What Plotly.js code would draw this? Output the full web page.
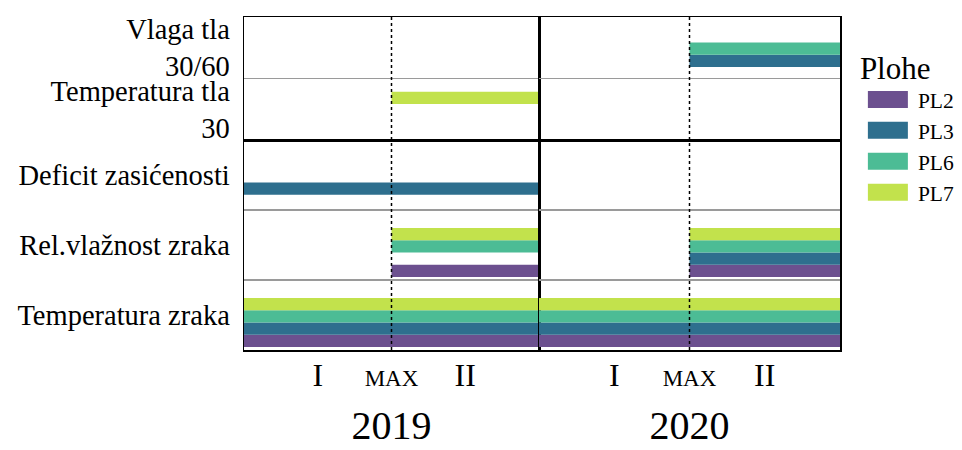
<!DOCTYPE html>
<html><head><meta charset="utf-8">
<script src="https://cdn.plot.ly/plotly-3.0.1.min.js"></script>
<style>html,body{margin:0;padding:0;background:#fff}#chart{width:962px;height:450px}</style>
</head><body><div id="chart"></div>
<script>
// ---------- data ----------
const years = ['2019', '2020'];
const phaseLabels = ['I', 'MAX', 'II'];
const phaseEdges = [0, 1, 2];               // start of I, MAX, end of II
const plots = ['PL2', 'PL3', 'PL6', 'PL7'];
const plotColors = ['#6C508F', '#2E6F8E', '#4CBC95', '#C2E24C'];
const airVariables = ['Temperatura zraka', 'Rel.vlažnost zraka', 'Deficit zasićenosti'];
const soilVariables = ['Temperatura tla 30', 'Vlaga tla 30/60'];

// measurement periods (phase units: 0 = start I, 1 = MAX, 2 = end II)
const segYear = ['2019','2019','2019','2019','2019','2019','2019','2019','2019',
                 '2020','2020','2020','2020','2020','2020','2020','2020','2020','2020'];
const segVariable = ['Temperatura zraka','Temperatura zraka','Temperatura zraka','Temperatura zraka',
                     'Rel.vlažnost zraka','Rel.vlažnost zraka','Rel.vlažnost zraka',
                     'Deficit zasićenosti','Temperatura tla 30',
                     'Temperatura zraka','Temperatura zraka','Temperatura zraka','Temperatura zraka',
                     'Rel.vlažnost zraka','Rel.vlažnost zraka','Rel.vlažnost zraka','Rel.vlažnost zraka',
                     'Vlaga tla 30/60','Vlaga tla 30/60'];
const segPlot = ['PL2','PL3','PL6','PL7',
                 'PL2','PL6','PL7',
                 'PL3','PL7',
                 'PL2','PL3','PL6','PL7',
                 'PL2','PL3','PL6','PL7',
                 'PL3','PL6'];
const segFrom = [0,0,0,0, 1,1,1, 0,1, 0,0,0,0, 1,1,1,1, 1,1];
const segTo   = [2,2,2,2, 2,2,2, 2,2, 2,2,2,2, 2,2,2,2, 2,2];

// ---------- build ----------
const FONT = 'Liberation Serif, Times New Roman, serif';
const facets = [
  {vars: airVariables, yaxis: 'y', slot: 12.3 / 70, shift: -7.5 / 70},
  {vars: soilVariables, yaxis: 'y2', slot: 12.3 / 61.5, shift: -7 / 61.5}
];
const xAxes = ['x', 'x2'];

const traces = [];
plots.forEach((p, k) => {
  let first = true;
  years.forEach((yr, c) => {
    facets.forEach(f => {
      const idx = segYear.map((v, i) => i).filter(i =>
        segYear[i] === yr && segPlot[i] === p && f.vars.includes(segVariable[i]));
      if (!idx.length) return;
      traces.push({
        type: 'bar', orientation: 'h',
        y: idx.map(i => segVariable[i]),
        x: idx.map(i => segTo[i] - segFrom[i]),
        base: idx.map(i => segFrom[i]),
        xaxis: xAxes[c], yaxis: f.yaxis,
        width: f.slot,
        offset: (k - 2) * f.slot + f.shift,
        marker: {color: plotColors[k], line: {width: 0}},
        name: p, legendgroup: p, showlegend: first,
        hoverinfo: 'skip'
      });
      first = false;
    });
  });
});

const tickVals = [(phaseEdges[0] + phaseEdges[1]) / 2, phaseEdges[1], (phaseEdges[1] + phaseEdges[2]) / 2];
const tickText = phaseLabels.map(t => t === 'MAX' ? '<span style="font-size:23px">' + t + '</span>' : t);

function xAxis(dom, title) {
  return {
    domain: dom, anchor: 'y', range: [phaseEdges[0], phaseEdges[2]],
    showgrid: false, zeroline: false, fixedrange: true,
    showline: true, mirror: 'all', linecolor: 'black', linewidth: 1.5,
    tickmode: 'array', tickvals: tickVals, ticktext: tickText,
    ticks: '', ticklabelstandoff: -4, tickfont: {family: FONT, size: 32, color: 'black'},
    title: {text: title, font: {family: FONT, size: 40, color: 'black'}, standoff: 19}
  };
}
function yAxis(dom, vars) {
  return {
    domain: dom, anchor: 'x', type: 'category',
    categoryorder: 'array', categoryarray: vars, range: [-0.5, vars.length - 0.5],
    tickson: 'boundaries', ticks: '', ticklabelstandoff: 7,
    showgrid: true, gridcolor: '#9a9a9a', gridwidth: 1.5, zeroline: false,
    showline: true, mirror: 'all', linecolor: 'black', linewidth: 1.5,
    tickfont: {family: FONT, size: 28.5, color: 'black'},
    labelalias: {'Temperatura tla 30': 'Temperatura tla<br>30', 'Vlaga tla 30/60': 'Vlaga tla<br>30/60'},
    fixedrange: true
  };
}

const split = 210 / 333;
const colSplit = 295 / 596;
const shapes = xAxes.map(ax => ({
  type: 'line', xref: ax, yref: 'paper',
  x0: phaseEdges[1], x1: phaseEdges[1], y0: 0, y1: 1,
  line: {color: 'black', width: 1.5, dash: 'dot'}, layer: 'above'
}));

const layout = {
  width: 962, height: 450,
  margin: {l: 244, r: 122, t: 17, b: 100, autoexpand: false},
  paper_bgcolor: 'white', plot_bgcolor: 'white',
  font: {family: FONT, color: 'black'},
  barmode: 'overlay',
  xaxis: xAxis([0, colSplit], years[0]),
  xaxis2: xAxis([colSplit, 1], years[1]),
  yaxis: yAxis([0, split], airVariables),
  yaxis2: yAxis([split, 1], soilVariables),
  shapes: shapes,
  showlegend: true,
  legend: {
    x: 1.03, y: 0.935, xanchor: 'left', yanchor: 'top',
    title: {text: 'Plohe', font: {family: FONT, size: 31, color: 'black'}},
    font: {family: FONT, size: 21.5, color: 'black'},
    itemwidth: 50,
    tracegroupgap: 0, traceorder: 'normal', bgcolor: 'rgba(0,0,0,0)'
  }
};

Plotly.newPlot('chart', traces, layout, {displayModeBar: false, staticPlot: true}).then(gd => {
  // widen legend swatches to the reference's rectangular keys
  gd.querySelectorAll('.legend .legendpoints path').forEach(p => p.setAttribute('d', 'M20,8.5H-20V-8.5H20Z'));
});
</script>
</body></html>
